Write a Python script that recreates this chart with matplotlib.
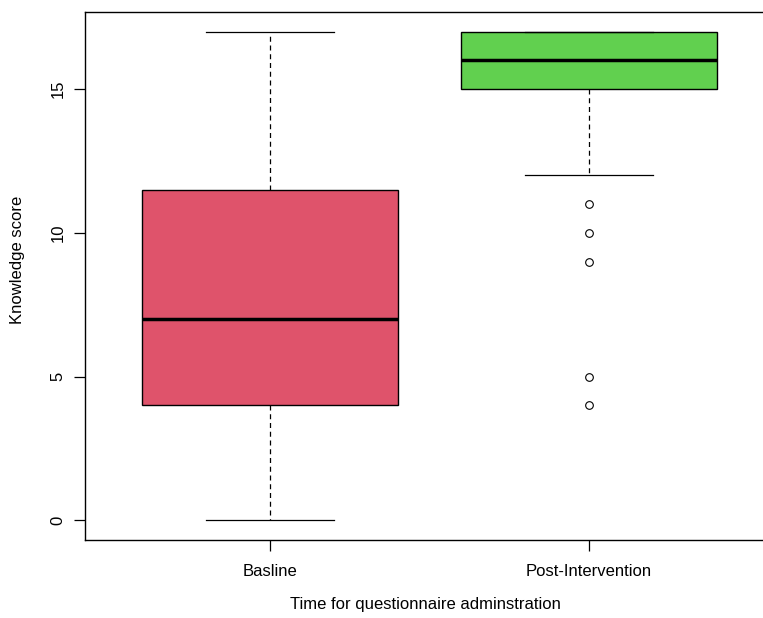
import matplotlib
matplotlib.use("Agg")
import matplotlib.pyplot as plt

plt.rcParams["font.family"] = ["Liberation Sans", "DejaVu Sans"]

groups = ["Basline", "Post-Intervention"]
colors = ["#DF536B", "#61D04F"]
q1 = [4, 15]
medians = [7, 16]
q3 = [11.5, 17]
whisker_lo = [0, 12]
whisker_hi = [17, 17]
outliers = [[], [11, 10, 9, 5, 4]]

stats = []
for i, name in enumerate(groups):
    stats.append({
        "label": name, "q1": q1[i], "med": medians[i], "q3": q3[i],
        "whislo": whisker_lo[i], "whishi": whisker_hi[i], "fliers": outliers[i],
    })

fig = plt.figure(figsize=(7.63, 6.18), dpi=100)
ax = fig.add_axes([85 / 763, 1 - 540 / 618, (774 - 85) / 763, (540 - 12) / 618])

bp = ax.bxp(
    stats, positions=[1, 2], widths=0.8, patch_artist=True,
    boxprops=dict(edgecolor="black", linewidth=1),
    medianprops=dict(color="black", linewidth=2.5),
    whiskerprops=dict(color="black", linewidth=0.9, linestyle=(0, (4, 3))),
    capprops=dict(color="black", linewidth=0.9),
    capwidths=0.4,
    flierprops=dict(marker="o", markerfacecolor="white", markeredgecolor="black",
                    markersize=5.5, markeredgewidth=0.8),
)
for patch, c in zip(bp["boxes"], colors):
    patch.set_facecolor(c)

ax.set_xlim(0.42, 2.58)
ax.set_ylim(-0.68, 17.68)
ax.set_yticks([0, 5, 10, 15])
ax.set_yticklabels(["0", "5", "10", "15"], rotation=90, va="center")
ax.set_xticks([1, 2])
ax.set_xticklabels(groups)
ax.tick_params(labelsize=12, length=8, width=0.9, pad=9)
ax.tick_params(axis="y", pad=6)
for s in ax.spines.values():
    s.set_linewidth(1)
ax.set_ylabel("Knowledge score", fontsize=12)
ax.set_xlabel("Time for questionnaire adminstration", fontsize=12)
ax.xaxis.set_label_coords((425 - 85) / (774 - 85), -(597 - 540) / 528)
ax.yaxis.set_label_coords(-(85 - 25) / (774 - 85), (540 - 260) / 528)

fig.savefig("out.png", dpi=100)
